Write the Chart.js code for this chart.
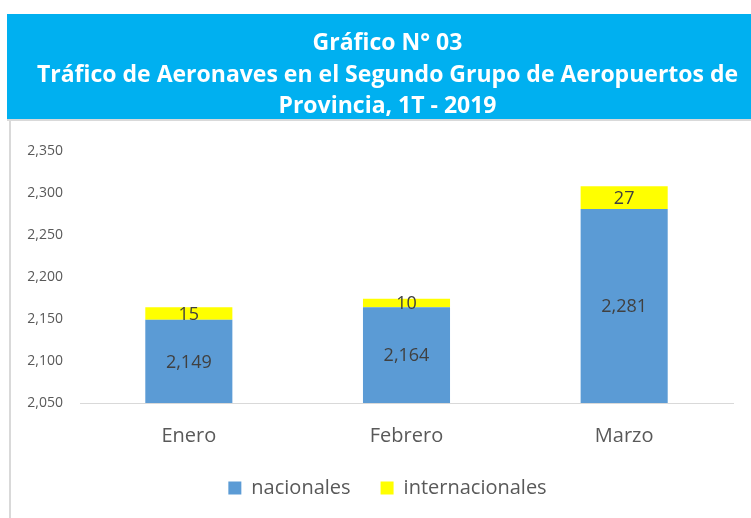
<!DOCTYPE html>
<html><head><meta charset="utf-8">
<script src="https://cdn.jsdelivr.net/npm/chart.js@4/dist/chart.umd.min.js"></script>
<style>html,body{margin:0;padding:0;background:#fff}#wrap{width:751px;height:518px;position:relative}</style>
</head><body><div id="wrap"><canvas id="c" width="751" height="518"></canvas></div>
<script>
const categories = ["Enero", "Febrero", "Marzo"];
const nacionales = [2149, 2164, 2281];
const internacionales = [15, 10, 27];
const titleLines = ["Gráfico N° 03", "Tráfico de Aeronaves en el Segundo Grupo de Aeropuertos de", "Provincia, 1T - 2019"];
const yMin = 2050, yMax = 2350, yStep = 50;

const FONT = '"Open Sans", sans-serif';

const frame = {
  id: 'frame',
  beforeDraw(chart) {
    const ctx = chart.ctx;
    ctx.save();
    ctx.fillStyle = '#00B0F0';
    ctx.fillRect(7, 14, 744, 105);
    ctx.fillStyle = '#D9D9D9';
    ctx.fillRect(7, 119, 744, 2);
    ctx.fillRect(9, 121, 2, 397);
    ctx.restore();
  }
};
const labels = {
  id: 'labels',
  afterDatasetsDraw(chart) {
    const ctx = chart.ctx;
    const area = chart.chartArea;
    ctx.save();
    ctx.font = '18px ' + FONT;
    ctx.fillStyle = '#404040';
    ctx.textAlign = 'center';
    ctx.textBaseline = 'middle';
    chart.data.datasets.forEach((ds, i) => {
      chart.getDatasetMeta(i).data.forEach((bar, j) => {
        const v = ds.data[j];
        const top = Math.max(Math.min(bar.y, bar.base), area.top);
        const bot = Math.min(Math.max(bar.y, bar.base), area.bottom);
        ctx.fillText(v.toLocaleString('en-US'), bar.x, (top + bot) / 2 + 1);
      });
    });
    ctx.restore();
  }
};

new Chart(document.getElementById('c'), {
  type: 'bar',
  data: {
    labels: categories,
    datasets: [
      { label: 'nacionales', data: nacionales, backgroundColor: '#5B9BD5', barPercentage: 0.5, categoryPercentage: 0.8 },
      { label: 'internacionales', data: internacionales, backgroundColor: '#FFFF00', barPercentage: 0.5, categoryPercentage: 0.8 }
    ]
  },
  options: {
    responsive: false,
    animation: false,
    layout: { padding: { left: 26, right: 2, top: 0, bottom: 10 } },
    plugins: {
      title: {
        display: true,
        text: titleLines,
        color: '#FFFFFF',
        font: { family: FONT, size: 23, weight: 'bold', lineHeight: 1.37 },
        padding: { top: 28, bottom: 28.5 }
      },
      legend: {
        position: 'bottom',
        labels: { color: '#595959', font: { family: FONT, size: 20 }, boxWidth: 13, boxHeight: 13, padding: 30 }
      },
      tooltip: { enabled: false }
    },
    scales: {
      x: {
        stacked: true,
        afterFit(s) { s.height = 45; },
        grid: { display: false },
        border: { color: '#D9D9D9', width: 1 },
        ticks: { color: '#595959', font: { family: FONT, size: 20 }, padding: 13 }
      },
      y: {
        stacked: true,
        min: yMin, max: yMax,
        afterFit(s) { s.width = 54; },
        grid: { display: false },
        border: { display: false },
        ticks: { stepSize: yStep, color: '#595959', font: { family: FONT, size: 14 }, padding: 9,
          callback: v => v.toLocaleString('en-US') }
      },
      yRight: {
        position: 'right',
        afterFit(s) { s.width = 16; },
        grid: { display: false },
        border: { display: false },
        ticks: { display: false }
      }
    }
  },
  plugins: [frame, labels]
});
</script></body></html>
